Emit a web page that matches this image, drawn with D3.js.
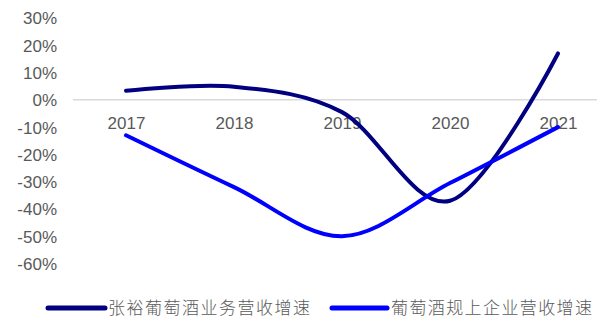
<!DOCTYPE html>
<html>
<head>
<meta charset="utf-8">
<script src="https://cdn.jsdelivr.net/npm/d3@7/dist/d3.min.js"></script>
<style>
  html, body { margin: 0; padding: 0; background: #fff; }
  svg { display: block; }
</style>
</head>
<body>
<svg id="chart" width="597" height="324"></svg>
<script>
// Years on the category axis
const years = ["2017", "2018", "2019", "2020", "2021"];
// Revenue growth, in percent
const changyuGrowth = [3.3, 4.8, -4.5, -37, 17];
const industryGrowth = [-13, -32, -50, -30.5, -10];
// Y-axis tick values, in percent
const yTicks = [30, 20, 10, 0, -10, -20, -30, -40, -50, -60];
// Legend entries
const seriesNames = ["张裕葡萄酒业务营收增速", "葡萄酒规上企业营收增速"];
const seriesColors = ["#000080", "#0000FF"];

const svg = d3.select("#chart");
const W = 597;

const x = d3.scalePoint().domain(years).range([126, 558]);
const y = d3.scaleLinear().domain([-60, 30]).range([263.5, 18]);

const labelFont = "Liberation Sans, Arial, sans-serif";
const grey = "#595959";

// zero baseline
svg.append("line")
  .attr("x1", 73).attr("x2", W)
  .attr("y1", y(0)).attr("y2", y(0))
  .attr("stroke", "#d9d9d9").attr("stroke-width", 1.5);

// y axis (labels only)
const yAxis = d3.axisLeft(y).tickValues(yTicks).tickSize(0).tickPadding(0)
  .tickFormat(d => d + "%");
const gy = svg.append("g").attr("transform", "translate(57,0)").call(yAxis);
gy.select(".domain").remove();
gy.selectAll("text")
  .attr("fill", grey).attr("font-family", labelFont).attr("font-size", 17)
  .attr("dy", "0.35em");

// category labels, just below the zero line
const xAxis = d3.axisBottom(x).tickSize(0).tickPadding(0);
const gx = svg.append("g").attr("transform", `translate(0,${y(0)})`).call(xAxis);
gx.select(".domain").remove();
gx.selectAll("text")
  .attr("fill", grey).attr("font-family", labelFont).attr("font-size", 17)
  .attr("dy", "1.7em");

// smoothed lines
const line = d3.line()
  .x((d, i) => x(years[i]))
  .y(d => y(d))
  .curve(d3.curveCardinal.tension(0));

[changyuGrowth, industryGrowth].forEach((vals, k) => {
  svg.append("path")
    .datum(vals)
    .attr("d", line)
    .attr("fill", "none")
    .attr("stroke", seriesColors[k])
    .attr("stroke-width", 4)
    .attr("stroke-linecap", "round")
    .attr("stroke-linejoin", "round");
});

// legend
const legendItems = [
  { x1: 48, x2: 105, tx: 108, len: 202 },
  { x1: 332, x2: 387, tx: 391, len: 201 }
];
const ly = 308;
legendItems.forEach((it, k) => {
  svg.append("line")
    .attr("x1", it.x1).attr("x2", it.x2)
    .attr("y1", ly).attr("y2", ly)
    .attr("stroke", seriesColors[k]).attr("stroke-width", 5)
    .attr("stroke-linecap", "round");
  svg.append("text")
    .attr("x", it.tx).attr("y", ly).attr("dy", "0.36em")
    .attr("fill", grey)
    .attr("font-family", "Noto Sans CJK SC, sans-serif")
    .attr("font-weight", 300)
    .attr("font-size", 17)
    .attr("textLength", it.len)
    .attr("lengthAdjust", "spacing")
    .text(seriesNames[k]);
});
</script>
</body>
</html>
